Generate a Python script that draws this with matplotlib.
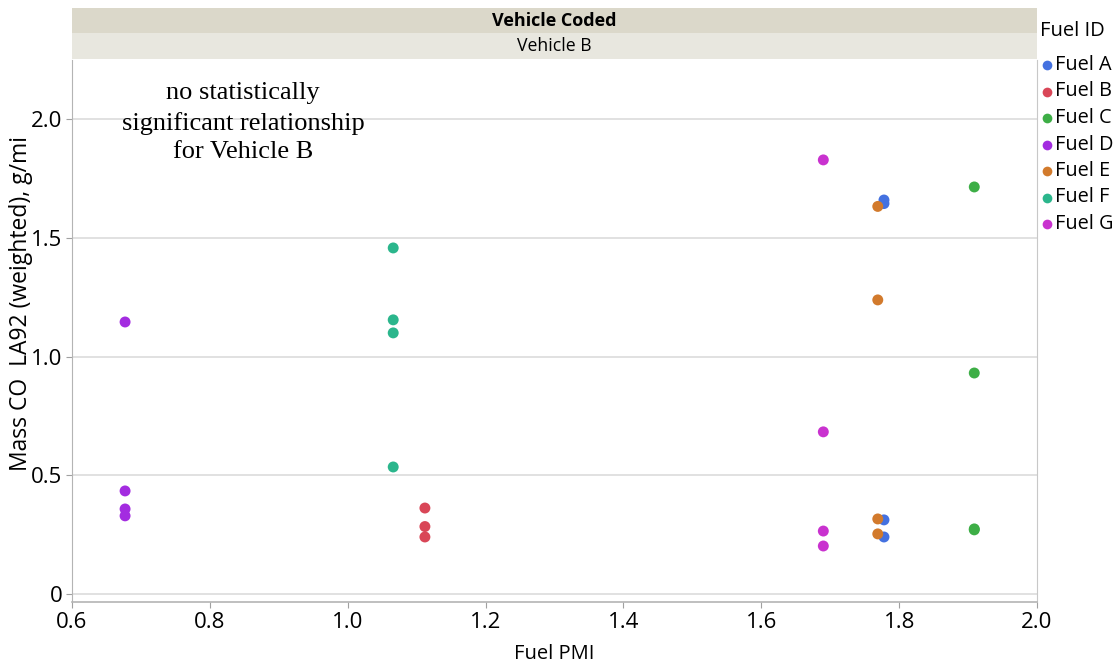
import matplotlib
matplotlib.use("Agg")
import matplotlib.pyplot as plt
from matplotlib.patches import Rectangle
from matplotlib.lines import Line2D

# Fuel PMI and weighted CO mass for Vehicle B, grouped by fuel
fuel_ids = ["Fuel A", "Fuel B", "Fuel C", "Fuel D", "Fuel E", "Fuel F", "Fuel G"]
fuel_colors = ["#4471E0", "#D94657", "#3DAE46", "#A32CE0", "#D27A2C", "#2BB68C", "#C932CF"]

pmi_a = [1.778, 1.778, 1.778, 1.778]
co_a = [1.660, 1.645, 0.312, 0.240]

pmi_b = [1.112, 1.112, 1.112]
co_b = [0.362, 0.284, 0.240]

pmi_c = [1.909, 1.909, 1.909, 1.909]
co_c = [1.715, 0.931, 0.274, 0.270]

pmi_d = [0.677, 0.677, 0.677, 0.677]
co_d = [1.146, 0.434, 0.358, 0.329]

pmi_e = [1.769, 1.769, 1.769, 1.769]
co_e = [1.633, 1.239, 0.316, 0.253]

pmi_f = [1.066, 1.066, 1.066, 1.066]
co_f = [1.458, 1.155, 1.100, 0.535]

pmi_g = [1.690, 1.690, 1.690, 1.690]
co_g = [1.829, 0.683, 0.265, 0.202]

x_ticks = [0.6, 0.8, 1.0, 1.2, 1.4, 1.6, 1.8, 2.0]
x_tick_labels = ["0.6", "0.8", "1.0", "1.2", "1.4", "1.6", "1.8", "2.0"]
y_ticks = [0, 0.5, 1.0, 1.5, 2.0]
y_tick_labels = ["0", "0.5", "1.0", "1.5", "2.0"]

series = [
    (pmi_a, co_a), (pmi_b, co_b), (pmi_c, co_c), (pmi_d, co_d),
    (pmi_e, co_e), (pmi_f, co_f), (pmi_g, co_g),
]

plt.rcParams["font.family"] = ["Open Sans", "DejaVu Sans"]

W, H = 1120, 666
fig = plt.figure(figsize=(W / 100, H / 100), dpi=100)

ax_left, ax_right = 72, 1037
ax_top, ax_bottom = 60, 602
ax = fig.add_axes([ax_left / W, 1 - ax_bottom / H,
                   (ax_right - ax_left) / W, (ax_bottom - ax_top) / H])

for (xs, ys), c in zip(series, fuel_colors):
    ax.scatter(xs, ys, s=62, color=c, edgecolors="none", zorder=3)

ax.set_xlim(0.6, 2.0)
ax.set_ylim(-0.034, 2.25)
ax.set_xticks(x_ticks)
ax.set_xticklabels(x_tick_labels, fontsize=16)
ax.set_yticks(y_ticks)
ax.set_yticklabels(y_tick_labels, fontsize=16)
ax.yaxis.grid(True, color="#DCDCDC", linewidth=1.2)
ax.set_axisbelow(True)
ax.tick_params(axis="both", length=4, color="#A0A0A0", width=0.8, pad=3, labelcolor="#000000")

ax.spines["top"].set_visible(False)
ax.spines["right"].set_color("#C8C8C8")
ax.spines["left"].set_color("#B4B4B4")
ax.spines["bottom"].set_color("#B4B4B4")
ax.spines["bottom"].set_linewidth(1.2)

ax.set_xlabel("Fuel PMI", fontsize=14.5, labelpad=8)
ax.set_ylabel("Mass CO  LA92 (weighted), g/mi", fontsize=16.5, va="center")
ax.yaxis.set_label_coords(-0.053, 0.55)

# Header bands above the panel
band_x0 = ax_left / W
band_w = (ax_right - ax_left) / W
fig.patches.append(Rectangle((band_x0, 1 - 33 / H), band_w, 25 / H,
                             transform=fig.transFigure, facecolor="#DBD8CA",
                             edgecolor="none"))
fig.patches.append(Rectangle((band_x0, 1 - 59 / H), band_w, 26 / H,
                             transform=fig.transFigure, facecolor="#E8E7DF",
                             edgecolor="none"))
fig.text((ax_left + ax_right) / 2 / W, 1 - 20.5 / H, "Vehicle Coded",
         ha="center", va="center", fontsize=13, fontweight="bold")
fig.text((ax_left + ax_right) / 2 / W, 1 - 46 / H, "Vehicle B",
         ha="center", va="center", fontsize=12.7)

# Annotation
ax.text(0.848, 1.985, "no statistically\nsignificant relationship\nfor Vehicle B",
        ha="center", va="center", fontsize=19, linespacing=1.4,
        family=["Liberation Serif", "DejaVu Serif"], zorder=4)

# Legend
fig.text(1040 / W, 1 - 31 / H, "Fuel ID", ha="left", va="center", fontsize=14.5)
y0 = 65
for i, (name, c) in enumerate(zip(fuel_ids, fuel_colors)):
    yy = 1 - (y0 + i * 26.5) / H
    fig.lines.append(Line2D([1047 / W], [yy], transform=fig.transFigure,
                            marker="o", markersize=7, color=c, linestyle="none",
                            markeredgewidth=0))
    fig.text(1055 / W, yy, name, ha="left", va="center", fontsize=14.3)

fig.savefig("out.png", dpi=100)
